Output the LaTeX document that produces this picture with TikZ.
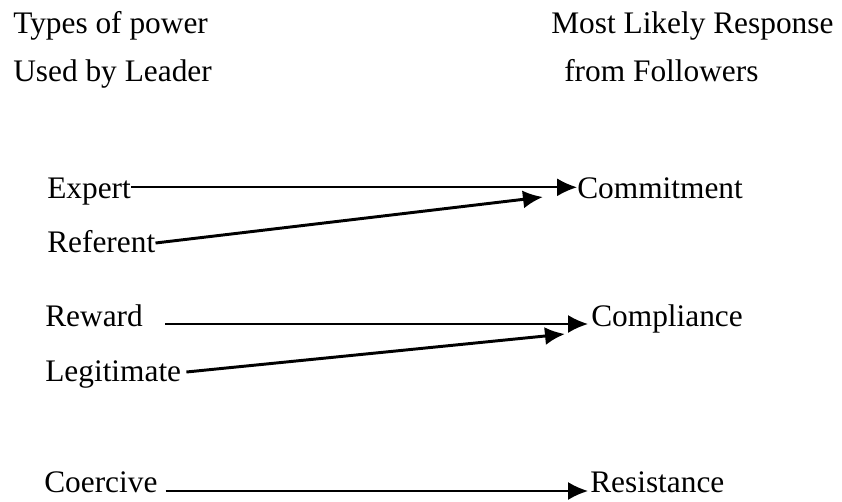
\documentclass[tikz,border=0pt]{standalone}
\usepackage{fontspec}
\setmainfont{Liberation Serif}
\usepackage{tikz}
\usetikzlibrary{arrows.meta}
\usetikzlibrary{calc}
\newcommand{\labelfont}{\fontsize{22.3}{26}\selectfont}

\begin{document}
\begin{tikzpicture}[
  x=0.025cm, y=-0.025cm,
  > = {Latex[length=0.5cm,width=0.45cm]},
  every node/.style = {font=\labelfont, inner sep=0pt, text height=15.2pt, text depth=0pt},
  word/.style = {anchor=base west},
  thinline/.style = {->, line width=1.3pt},
  thickline/.style = {->, line width=2.1pt}
  ]
	\useasboundingbox (0,0) rectangle (842,501);

	% headings
	\node[word] (typesTop) at (13,33) {Types of power};
	\node[word] (typesBottom) at (13,81) {Used by Leader};
	\node[word] (responseTop) at (551,33) {Most Likely Response};
	\node[word] (responseBottom) at (564,81) {from Followers};

	% power types
	\node[word] (expert) at (47,198) {Expert};
	\node[word] (referent) at (47,252) {Referent};
	\node[word] (reward) at (45,326) {Reward};
	\node[word] (legitimate) at (45,381) {Legitimate};
	\node[word] (coercive) at (44,492) {Coercive};

	% responses
	\node[word] (commitment) at (577,198) {Commitment};
	\node[word] (compliance) at (591,326) {Compliance};
	\node[word] (resistance) at (590,492) {Resistance};

	\coordinate (@referent) at (543,197);
	\coordinate (@legitimate) at (565,334);

	\draw[thinline] (expert.east) -- (commitment.west);
	\draw[thickline] ([shift={(0,-9)}]referent.base east) -- (@referent);
	\draw[thinline] ([shift={(22,-2)}]reward.base east) -- ([shift={(-3,-2)}]compliance.base west);
	\draw[thickline] ([shift={(5,-9)}]legitimate.base east) -- (@legitimate);
	\draw[thinline] ([shift={(8,-1)}]coercive.base east) -- ([shift={(-2,-1)}]resistance.base west);

\end{tikzpicture}
\end{document}
